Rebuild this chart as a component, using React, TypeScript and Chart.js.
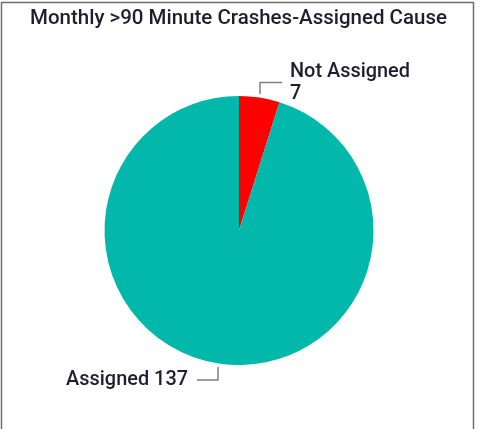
import { useEffect, useRef } from "react";
import { Chart, registerables } from "chart.js";

Chart.register(...registerables);

const chartTitle = "Monthly >90 Minute Crashes-Assigned Cause";
const categories = ["Not Assigned", "Assigned"];
const values = [7, 137];
const sliceColors = ["#FD0000", "#01B8AA"];

const FONT_FAMILY = "Roboto, 'Noto Sans', sans-serif";
const FONT_WEIGHT = "500";
const TEXT_COLOR = "#1f1e2e";
const LEADER_COLOR = "#808080";

function fitSize(ctx: CanvasRenderingContext2D, text: string, target: number) {
  ctx.font = `${FONT_WEIGHT} 100px ${FONT_FAMILY}`;
  const w = ctx.measureText(text).width;
  return (100 * target) / w;
}

const decorPlugin = {
  id: "pbiDecor",
  afterDraw(chart: any) {
    const ctx: CanvasRenderingContext2D = chart.ctx;
    ctx.save();

    // visual border
    ctx.strokeStyle = "#6e6e6e";
    ctx.lineWidth = 1.5;
    ctx.beginPath();
    ctx.moveTo(1.5, 440);
    ctx.lineTo(1.5, 2.5);
    ctx.lineTo(473.5, 2.5);
    ctx.lineTo(473.5, 440);
    ctx.stroke();

    // title
    const tSize = fitSize(ctx, chartTitle, 417);
    ctx.font = `${FONT_WEIGHT} ${tSize}px ${FONT_FAMILY}`;
    ctx.fillStyle = TEXT_COLOR;
    ctx.textAlign = "center";
    ctx.textBaseline = "alphabetic";
    ctx.fillText(chartTitle, 238.5, 23.5);

    // data labels with leader lines
    const meta = chart.getDatasetMeta(0);
    const lSize = fitSize(ctx, `${categories[1]} ${values[1]}`, 122);
    ctx.font = `${FONT_WEIGHT} ${lSize}px ${FONT_FAMILY}`;
    meta.data.forEach((arc: any, i: number) => {
      const p = arc.getProps(["x", "y", "startAngle", "endAngle", "outerRadius"], true);
      const mid = (p.startAngle + p.endAngle) / 2;
      const r0 = p.outerRadius + 3.5;
      const sx = p.x + r0 * Math.cos(mid);
      const sy = p.y + r0 * Math.sin(mid);
      const up = Math.sin(mid) < 0;
      const right = Math.cos(mid) > 0;
      const ey = up ? sy - 11.5 : sy + 13;
      const ex = right ? sx + 22 : sx - 21;
      ctx.strokeStyle = LEADER_COLOR;
      ctx.lineWidth = 1.5;
      ctx.beginPath();
      ctx.moveTo(sx, sy);
      ctx.lineTo(sx, ey);
      ctx.lineTo(ex, ey);
      ctx.stroke();

      ctx.fillStyle = TEXT_COLOR;
      ctx.textBaseline = "alphabetic";
      if (right) {
        ctx.textAlign = "left";
        ctx.fillText(categories[i], ex + 8, ey - 6);
        ctx.fillText(String(values[i]), ex + 8, ey + 16);
      } else {
        ctx.textAlign = "right";
        ctx.fillText(`${categories[i]} ${values[i]}`, ex - 9, ey + 5.5);
      }
    });

    ctx.restore();
  },
};

export default function App() {
  const ref = useRef<HTMLCanvasElement>(null);

  useEffect(() => {
    const canvas = ref.current;
    if (!canvas) return;
    const chart = new Chart(canvas, {
      type: "pie",
      data: {
        labels: categories,
        datasets: [
          {
            data: values,
            backgroundColor: sliceColors,
            borderWidth: 0,
          },
        ],
      },
      options: {
        responsive: false,
        animation: false,
        devicePixelRatio: 1,
        layout: { padding: { left: 104, right: 106, top: 96, bottom: 64 } },
        plugins: {
          legend: { display: false },
          title: { display: false },
          tooltip: { enabled: false },
        },
      },
      plugins: [decorPlugin],
    });
    return () => chart.destroy();
  }, []);

  return (
    <div style={{ position: "absolute", left: 0, top: 0, width: 480, height: 429, background: "#ffffff" }}>
      <canvas ref={ref} width={480} height={429} style={{ display: "block" }} />
    </div>
  );
}
